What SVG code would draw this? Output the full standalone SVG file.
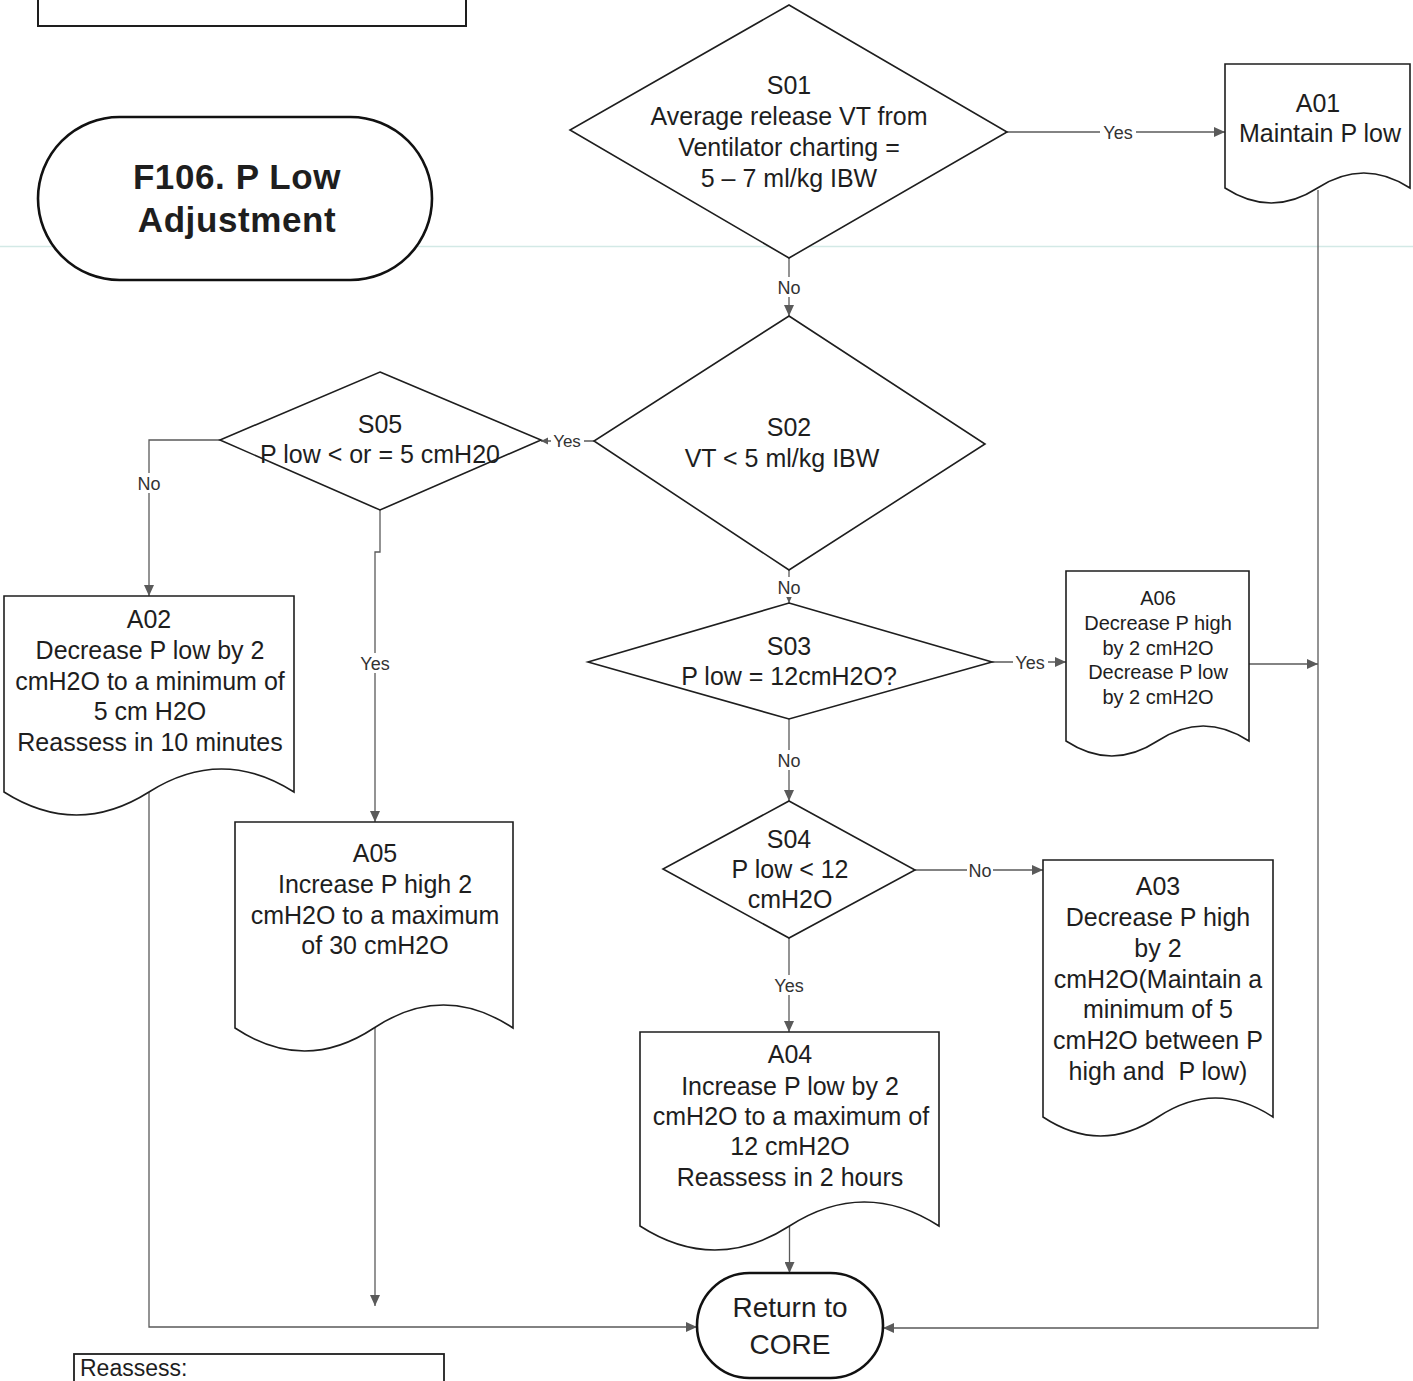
<svg xmlns="http://www.w3.org/2000/svg" width="1413" height="1381" viewBox="0 0 1413 1381">
  <style>
    .shape { fill: #ffffff; stroke: #1e1e1e; stroke-width: 1.6; }
    .term { fill: #ffffff; stroke: #111111; stroke-width: 2.6; }
    .txt { font-family: "Liberation Sans", Arial, sans-serif; font-size: 25px; fill: #1e1e1e; text-anchor: middle; }
    .small { font-size: 20px; }
    .title { font-family: "Liberation Sans", Arial, sans-serif; font-size: 35px; font-weight: bold; fill: #1e1e1e; text-anchor: middle; letter-spacing: 0.6px; }
    .conn { fill: none; stroke: #5a5a5a; stroke-width: 1.3; }
    .lbl { font-family: "Liberation Sans", Arial, sans-serif; font-size: 18px; fill: #333333; text-anchor: middle; }
    .mask { fill: #ffffff; }
  </style>
  <defs>
    <marker id="arrow" markerUnits="userSpaceOnUse" markerWidth="12" markerHeight="10" refX="11" refY="5" orient="auto">
      <path d="M0,0 L11,5 L0,10 Z" fill="#5a5a5a"/>
    </marker>
    <marker id="arrowSmall" markerUnits="userSpaceOnUse" markerWidth="8" markerHeight="8" refX="7" refY="3.5" orient="auto">
      <path d="M0,0 L7,3.5 L0,7 Z" fill="#5a5a5a"/>
    </marker>
  </defs>

  <rect width="1413" height="1381" fill="#ffffff"/>

  <!-- faint horizontal guide line across the sheet -->
  <line x1="0" y1="246.5" x2="1413" y2="246.5" stroke="#d3e9e6" stroke-width="1.5"/>

  <!-- top frame box (cut by the sheet edge) -->
  <rect x="38" y="-6" width="428" height="32" fill="none" stroke="#1e1e1e" stroke-width="2"/>

  <!-- connectors -->
  <g id="connectors">
    <!-- S01 yes -> A01 -->
    <line class="conn" x1="1007" y1="132" x2="1225" y2="132" marker-end="url(#arrow)"/>
    <!-- S01 no -> S02 -->
    <line class="conn" x1="789" y1="258" x2="789" y2="316" marker-end="url(#arrow)"/>
    <!-- S02 yes -> S05 -->
    <line class="conn" x1="594" y1="441" x2="541" y2="441" marker-end="url(#arrowSmall)"/>
    <!-- S05 no -> A02 -->
    <path class="conn" d="M220,440 H149 V596" marker-end="url(#arrow)"/>
    <!-- S05 yes -> A05 -->
    <path class="conn" d="M380,510 V552 H375 V822" marker-end="url(#arrow)"/>
    <!-- S02 no -> S03 -->
    <line class="conn" x1="789" y1="570" x2="789" y2="603" marker-end="url(#arrow)"/>
    <!-- S03 yes -> A06 -->
    <line class="conn" x1="992" y1="662" x2="1066" y2="662" marker-end="url(#arrow)"/>
    <!-- A06 -> return line -->
    <line class="conn" x1="1249" y1="664" x2="1318" y2="664" marker-end="url(#arrow)"/>
    <!-- S03 no -> S04 -->
    <line class="conn" x1="789" y1="719" x2="789" y2="801" marker-end="url(#arrow)"/>
    <!-- S04 no -> A03 -->
    <line class="conn" x1="915" y1="870" x2="1043" y2="870" marker-end="url(#arrow)"/>
    <!-- S04 yes -> A04 -->
    <line class="conn" x1="789" y1="938" x2="789" y2="1032" marker-end="url(#arrow)"/>
    <!-- A04 -> Return to CORE -->
    <line class="conn" x1="789.5" y1="1226" x2="789.5" y2="1273" marker-end="url(#arrow)"/>
    <!-- A01 -> Return to CORE -->
    <path class="conn" d="M1318,190 V1328 H883" marker-end="url(#arrow)"/>
    <!-- A02 -> Return to CORE -->
    <path class="conn" d="M149,792 V1327 H697" marker-end="url(#arrow)"/>
    <!-- A05 down -->
    <line class="conn" x1="375" y1="1028" x2="375" y2="1306" marker-end="url(#arrow)"/>

    <!-- connector labels -->
    <rect class="mask" x="1100" y="122" width="36" height="20"/>
    <text class="lbl" x="1118" y="138.5">Yes</text>
    <rect class="mask" x="776" y="277" width="26" height="20"/>
    <text class="lbl" x="789" y="293.5">No</text>
    <rect class="mask" x="551" y="432" width="33" height="18"/>
    <text class="lbl" x="567" y="447" style="font-size:17px">Yes</text>
    <rect class="mask" x="136" y="473" width="26" height="20"/>
    <text class="lbl" x="149" y="489.5">No</text>
    <rect class="mask" x="357" y="653" width="36" height="20"/>
    <text class="lbl" x="375" y="669.5">Yes</text>
    <rect class="mask" x="776" y="577" width="26" height="20"/>
    <text class="lbl" x="789" y="593.5">No</text>
    <rect class="mask" x="1013" y="652" width="35" height="20"/>
    <text class="lbl" x="1030" y="668.5">Yes</text>
    <rect class="mask" x="776" y="750" width="26" height="20"/>
    <text class="lbl" x="789" y="766.5">No</text>
    <rect class="mask" x="967" y="860" width="26" height="20"/>
    <text class="lbl" x="980" y="876.5">No</text>
    <rect class="mask" x="771" y="975" width="36" height="20"/>
    <text class="lbl" x="789" y="991.5">Yes</text>
  </g>

  <!-- start terminator -->
  <g id="F106">
    <rect class="term" x="38" y="117" width="394" height="163" rx="81.5" ry="81.5"/>
    <text class="title" x="237" y="189">F106. P Low</text>
    <text class="title" x="237" y="232">Adjustment</text>
  </g>

  <g id="S01">
    <polygon class="shape" points="789,5 1007,132 789,258 570,130"/>
    <text class="txt" x="789" y="94">S01</text>
    <text class="txt" x="789" y="125">Average release VT from</text>
    <text class="txt" x="789" y="156">Ventilator charting =</text>
    <text class="txt" x="789" y="187">5 – 7 ml/kg IBW</text>
  </g>

  <g id="A01">
    <path class="shape" d="M1225,64 H1410 V188 Q1363.75,158 1317.5,188 T1225,188 Z"/>
    <text class="txt" x="1318" y="112">A01</text>
    <text class="txt" x="1320" y="142">Maintain P low</text>
  </g>

  <g id="S02">
    <polygon class="shape" points="789,316 985,444 789,570 594,441"/>
    <text class="txt" x="789" y="436">S02</text>
    <text class="txt" x="782" y="467">VT &lt; 5 ml/kg IBW</text>
  </g>

  <g id="S05">
    <polygon class="shape" points="380,372 541,440 380,510 220,440"/>
    <text class="txt" x="380" y="433">S05</text>
    <text class="txt" x="380" y="463">P low &lt; or = 5 cmH20</text>
  </g>

  <g id="A02">
    <path class="shape" d="M4,596 H294 V792 Q221.5,746 149,792 T4,792 Z"/>
    <text class="txt" x="149" y="628">A02</text>
    <text class="txt" x="150" y="659">Decrease P low by 2</text>
    <text class="txt" x="150" y="690">cmH2O to a minimum of</text>
    <text class="txt" x="150" y="720">5 cm H2O</text>
    <text class="txt" x="150" y="751">Reassess in 10 minutes</text>
  </g>

  <g id="A05">
    <path class="shape" d="M235,822 H513 V1028 Q443.5,982 374,1028 T235,1028 Z"/>
    <text class="txt" x="375" y="862">A05</text>
    <text class="txt" x="375" y="893">Increase P high 2</text>
    <text class="txt" x="375" y="924">cmH2O to a maximum</text>
    <text class="txt" x="375" y="954">of 30 cmH2O</text>
  </g>

  <g id="S03">
    <polygon class="shape" points="789,603 992,662 789,719 588,662"/>
    <text class="txt" x="789" y="655">S03</text>
    <text class="txt" x="789" y="685">P low = 12cmH2O?</text>
  </g>

  <g id="A06">
    <path class="shape" d="M1066,571 H1249 V741 Q1203.25,711 1157.5,741 T1066,741 Z"/>
    <text class="txt small" x="1158" y="605">A06</text>
    <text class="txt small" x="1158" y="630">Decrease P high</text>
    <text class="txt small" x="1158" y="655">by 2 cmH2O</text>
    <text class="txt small" x="1158" y="679">Decrease P low</text>
    <text class="txt small" x="1158" y="704">by 2 cmH2O</text>
  </g>

  <g id="S04">
    <polygon class="shape" points="789,801 915,870 789,938 663,869"/>
    <text class="txt" x="789" y="848">S04</text>
    <text class="txt" x="790" y="878">P low &lt; 12</text>
    <text class="txt" x="790" y="908">cmH2O</text>
  </g>

  <g id="A03">
    <path class="shape" d="M1043,860 H1273 V1117 Q1215.5,1079 1158,1117 T1043,1117 Z"/>
    <text class="txt" x="1158" y="895">A03</text>
    <text class="txt" x="1158" y="926">Decrease P high</text>
    <text class="txt" x="1158" y="957">by 2</text>
    <text class="txt" x="1158" y="988">cmH2O(Maintain a</text>
    <text class="txt" x="1158" y="1018">minimum of 5</text>
    <text class="txt" x="1158" y="1049">cmH2O between P</text>
    <text class="txt" x="1158" y="1080" xml:space="preserve">high and  P low)</text>
  </g>

  <g id="A04">
    <path class="shape" d="M640,1032 H939 V1226 Q864.25,1178 789.5,1226 T640,1226 Z"/>
    <text class="txt" x="790" y="1063">A04</text>
    <text class="txt" x="790" y="1095">Increase P low by 2</text>
    <text class="txt" x="791" y="1125">cmH2O to a maximum of</text>
    <text class="txt" x="790" y="1155">12 cmH2O</text>
    <text class="txt" x="790" y="1186">Reassess in 2 hours</text>
  </g>

  <!-- end terminator -->
  <g id="CORE">
    <rect class="term" x="697" y="1273" width="186" height="105" rx="52.5" ry="52.5"/>
    <text class="txt" x="790" y="1317" style="font-size:28px">Return to</text>
    <text class="txt" x="790" y="1354" style="font-size:28px">CORE</text>
  </g>

  <!-- reassess note box (cut by the sheet edge) -->
  <g id="Reassess">
    <rect x="74" y="1354" width="370" height="40" fill="#ffffff" stroke="#1e1e1e" stroke-width="1.8"/>
    <text x="80" y="1376" font-family="'Liberation Sans', Arial, sans-serif" font-size="23" fill="#1e1e1e">Reassess:</text>
  </g>
</svg>
